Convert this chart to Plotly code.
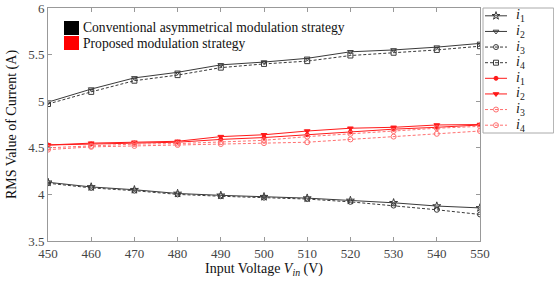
import plotly.graph_objects as go

vin = [450, 460, 470, 480, 490, 500, 510, 520, 530, 540, 550]

# Conventional asymmetrical modulation strategy (black)
conv_i1 = [4.13, 4.08, 4.05, 4.01, 3.99, 3.975, 3.96, 3.935, 3.91, 3.875, 3.855]
conv_i2 = [4.99, 5.13, 5.25, 5.31, 5.39, 5.42, 5.46, 5.53, 5.55, 5.58, 5.62]
conv_i3 = [4.12, 4.07, 4.04, 4.00, 3.98, 3.965, 3.95, 3.92, 3.88, 3.835, 3.785]
conv_i4 = [4.97, 5.10, 5.22, 5.28, 5.36, 5.40, 5.43, 5.49, 5.52, 5.55, 5.59]

# Proposed modulation strategy (red)
prop_i1 = [4.53, 4.54, 4.55, 4.56, 4.59, 4.61, 4.64, 4.67, 4.70, 4.72, 4.745]
prop_i2 = [4.53, 4.55, 4.56, 4.57, 4.62, 4.64, 4.68, 4.71, 4.72, 4.745, 4.75]
prop_i3 = [4.48, 4.51, 4.52, 4.53, 4.54, 4.55, 4.56, 4.59, 4.62, 4.65, 4.68]
prop_i4 = [4.50, 4.52, 4.54, 4.545, 4.56, 4.58, 4.62, 4.65, 4.68, 4.71, 4.73]

xticks = [450, 460, 470, 480, 490, 500, 510, 520, 530, 540, 550]
yticks = [3.5, 4, 4.5, 5, 5.5, 6]
ytick_text = ["3.5", "4", "4.5", "5", "5.5", "6"]

legend_names = ["<i>i</i><sub>1</sub>", "<i>i</i><sub>2</sub>",
                "<i>i</i><sub>3</sub>", "<i>i</i><sub>4</sub>"]
strategy_names = ["Conventional asymmetrical modulation strategy",
                  "Proposed modulation strategy"]

BLACK = "#3a3a3a"
RED = "#ff1a1a"
RED_L = "#ff7070"
FONT = "Liberation Serif, Times New Roman, serif"
DASH = "3px,2px"

series = [
    (conv_i1, BLACK, "solid", "star-open", 6, legend_names[0]),
    (conv_i2, BLACK, "solid", "triangle-down-open", 5, legend_names[1]),
    (conv_i3, BLACK, DASH, "circle-open", 5, legend_names[2]),
    (conv_i4, BLACK, DASH, "square-open", 5, legend_names[3]),
    (prop_i1, RED, "solid", "circle", 4, legend_names[0]),
    (prop_i2, RED, "solid", "triangle-down", 5, legend_names[1]),
    (prop_i3, RED_L, DASH, "circle-open", 5, legend_names[2]),
    (prop_i4, RED_L, DASH, "circle-open", 5, legend_names[3]),
]

fig = go.Figure()
for ys, col, dash, sym, sz, name in series:
    fig.add_trace(go.Scatter(
        x=vin, y=ys, mode="lines+markers", name=name, showlegend=False,
        line=dict(color=col, width=1, dash=dash),
        marker=dict(symbol=sym, size=sz, color=col, line=dict(color=col, width=1)),
        xaxis="x", yaxis="y",
    ))

# Custom legend (key box to the right of the plot)
for k, (ys, col, dash, sym, sz, name) in enumerate(series):
    row = k + 0.5
    fig.add_trace(go.Scatter(
        x=[2, 24], y=[row, row], mode="lines", showlegend=False, hoverinfo="skip",
        line=dict(color=col, width=1, dash=dash), xaxis="x2", yaxis="y2"))
    fig.add_trace(go.Scatter(
        x=[13], y=[row], mode="markers", showlegend=False, hoverinfo="skip",
        marker=dict(symbol=sym, size=sz, color=col, line=dict(color=col, width=1)),
        xaxis="x2", yaxis="y2"))
    fig.add_annotation(xref="x2", yref="y2", x=31, y=row, xanchor="left",
                       yanchor="middle", showarrow=False, text=name,
                       font=dict(size=14, color="#222", family=FONT))

W_PLOT = 506.0
fig.add_shape(type="rect", xref="x2 domain", yref="y2 domain",
              x0=0, x1=0.995, y0=0, y1=1, line=dict(color="#aaa", width=1))

fig.update_layout(
    width=554, height=282,
    margin=dict(l=48, r=0, t=8, b=41),
    plot_bgcolor="white", paper_bgcolor="white",
    font=dict(family=FONT, size=13, color="#222"),
    showlegend=False,
    xaxis=dict(domain=[0, 432 / W_PLOT], range=[450, 550], tickvals=xticks,
               ticks="inside", ticklen=4, tickcolor="#999",
               showline=True, linecolor="#999", mirror="ticks", showgrid=False,
               zeroline=False, automargin=False, tickfont=dict(size=13, color="#444"),
               title=dict(text="Input Voltage <i>V</i><sub><i>in</i></sub> (V)",
                          font=dict(size=14, color="#111"), standoff=3)),
    yaxis=dict(range=[3.5, 6], tickvals=yticks, ticktext=ytick_text, ticks="inside",
               ticklen=4, tickcolor="#999", showline=True, linecolor="#999",
               mirror="ticks", showgrid=False, zeroline=False, automargin=False,
               tickfont=dict(size=13, color="#444"),
               title=dict(text="RMS Value of Current (A)",
                          font=dict(size=14, color="#111"), standoff=8)),
    xaxis2=dict(domain=[435 / W_PLOT, 1.0], range=[0, 71], anchor="y2",
                showline=False, showgrid=False, zeroline=False,
                showticklabels=False, ticks="", automargin=False, fixedrange=True),
    yaxis2=dict(domain=[1 - 125 / 233.0, 1.0], range=[8, 0], anchor="x2",
                showline=False, showgrid=False, zeroline=False,
                showticklabels=False, ticks="", automargin=False, fixedrange=True),
)

# Strategy key (coloured squares with text)
for j, (txt, fill) in enumerate(zip(strategy_names, ["black", "red"])):
    yc = 1 - (28 + 15 * j - 8) / 233.0
    fig.add_shape(type="rect", xref="paper", yref="paper",
                  x0=16 / W_PLOT, x1=31 / W_PLOT, y0=yc - 7 / 233.0, y1=yc + 7 / 233.0,
                  fillcolor=fill, line=dict(width=0))
    fig.add_annotation(xref="paper", yref="paper", x=33 / W_PLOT, y=yc,
                       xanchor="left", yanchor="middle", showarrow=False, text=txt,
                       font=dict(size=13.6, color="#111", family=FONT))

fig.write_html("out.html", config={"displayModeBar": False},
               post_script="document.body.style.margin='0';")
